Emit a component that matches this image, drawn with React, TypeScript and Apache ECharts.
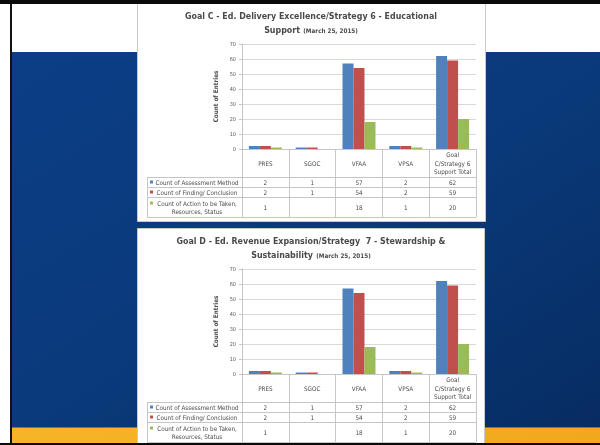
import React, { useEffect, useRef } from 'react';
import * as echarts from 'echarts';

// ---------- data ----------
const categories = ['PRES', 'SGOC', 'VFAA', 'VPSA', 'Goal\nC/Strategy 6\nSupport Total'];
const seriesNames = [
  'Count of Assessment Method',
  'Count of Finding/ Conclusion',
  'Count of Action to be Taken,\nResources, Status',
];
const goalCAssessment = [2, 1, 57, 2, 62];
const goalCFinding = [2, 1, 54, 2, 59];
const goalCAction: (number | null)[] = [1, null, 18, 1, 20];
const goalDAssessment = [2, 1, 57, 2, 62];
const goalDFinding = [2, 1, 54, 2, 59];
const goalDAction: (number | null)[] = [1, null, 18, 1, 20];
const yMin = 0;
const yMax = 70;
const yStep = 10;
const goalCTitle = ['Goal C - Ed. Delivery Excellence/Strategy 6 - Educational', 'Support'];
const goalDTitle = ['Goal D - Ed. Revenue Expansion/Strategy  7 - Stewardship &', 'Sustainability'];
const dateNote = '(March 25, 2015)';
const yAxisName = 'Count of Entries';

// ---------- style / layout ----------
const colors = ['#4F81BD', '#C0504D', '#9BBB59'];
const FONT = '"Liberation Sans Narrow", "DejaVu Sans Condensed", "Liberation Sans", sans-serif';
const GL = 242;
const GW = 234;
const GT = 44;
const GH = 105;
const TABLE_LEFT = 147;
const ROW_BOUNDS = [177, 187, 197, 217];
const LEGEND_CX = 197;
const LINE_H = 8;
const GRID_LINE = '#c6c6c6';
const TEXT = '#4a4a4a';

function buildOption() {
  const charts = [
    { off: 0, title: goalCTitle, data: [goalCAssessment, goalCFinding, goalCAction], panel: [137, 2, 348, 219] },
    { off: 225, title: goalDTitle, data: [goalDAssessment, goalDFinding, goalDAction], panel: [137, 228, 347, 220] },
  ];

  const graphics: any[] = [
    { type: 'rect', z: -20, shape: { x: 0, y: 0, width: 600, height: 445 }, style: { fill: '#ffffff' } },
    {
      type: 'rect', z: -19, shape: { x: 12, y: 52, width: 588, height: 376 },
      style: {
        fill: new echarts.graphic.LinearGradient(0, 0, 1, 1, [
          { offset: 0, color: '#0b3e86' },
          { offset: 0.5, color: '#0a3a7b' },
          { offset: 1, color: '#072c62' },
        ]),
      },
    },
    {
      type: 'rect', z: -19, shape: { x: 12, y: 427, width: 588, height: 16 },
      style: {
        fill: new echarts.graphic.LinearGradient(0, 0, 1, 0, [
          { offset: 0, color: '#f6b526' },
          { offset: 1, color: '#f2a81c' },
        ]),
      },
    },
    { type: 'rect', z: -19, shape: { x: 12, y: 427, width: 588, height: 1 }, style: { fill: '#9a7316' } },
    { type: 'rect', z: 50, shape: { x: 10, y: 0, width: 2, height: 445 }, style: { fill: '#111111' } },
    { type: 'rect', z: 50, shape: { x: 0, y: 0, width: 600, height: 4 }, style: { fill: '#0a0a0a' } },
    { type: 'rect', z: 50, shape: { x: 0, y: 443, width: 600, height: 2 }, style: { fill: '#0a0a0a' } },
  ];

  const grids: any[] = [];
  const xAxes: any[] = [];
  const yAxes: any[] = [];
  const series: any[] = [];

  charts.forEach((c, ci) => {
    const o = c.off;
    const [px, py, pw, ph] = c.panel;
    graphics.push({
      type: 'rect', z: -10, shape: { x: px + 0.5, y: py + 0.5, width: pw, height: ph },
      style: { fill: '#ffffff', stroke: '#c9c9c9', lineWidth: 1 },
    });
    // title
    graphics.push({
      type: 'text', z: 10, x: 311, y: 16 + o,
      style: {
        text: c.title[0], fill: TEXT, font: `bold 8.8px ${FONT}`,
        align: 'center', verticalAlign: 'middle',
      },
    });
    graphics.push({
      type: 'text', z: 10, x: 311, y: 30 + o,
      style: {
        text: `{a|${c.title[1]}} {b|${dateNote}}`,
        align: 'center', verticalAlign: 'middle',
        rich: {
          a: { fill: TEXT, font: `bold 8.8px ${FONT}` },
          b: { fill: TEXT, font: `bold 6.3px ${FONT}` },
        },
      },
    });

    // table horizontal lines
    ROW_BOUNDS.forEach((yb) => {
      graphics.push({
        type: 'line', z: 10,
        shape: { x1: TABLE_LEFT, y1: yb + o + 0.5, x2: GL + GW, y2: yb + o + 0.5 },
        style: { stroke: GRID_LINE, lineWidth: 1 },
      });
    });
    graphics.push({
      type: 'line', z: 10,
      shape: { x1: TABLE_LEFT + 0.5, y1: ROW_BOUNDS[0] + o, x2: TABLE_LEFT + 0.5, y2: ROW_BOUNDS[3] + o },
      style: { stroke: GRID_LINE, lineWidth: 1 },
    });

    // table rows
    c.data.forEach((vals, si) => {
      const cy = (ROW_BOUNDS[si] + ROW_BOUNDS[si + 1]) / 2 + o;
      const nLines = seriesNames[si].split('\n').length;
      const firstY = cy - ((nLines - 1) * LINE_H) / 2;
      graphics.push({
        type: 'rect', z: 10, shape: { x: 150, y: firstY - 1.5, width: 3, height: 3 },
        style: { fill: colors[si] },
      });
      graphics.push({
        type: 'text', z: 10, x: LEGEND_CX, y: cy,
        style: {
          text: seriesNames[si], fill: TEXT, font: `6.3px ${FONT}`,
          align: 'center', verticalAlign: 'middle', lineHeight: LINE_H,
        },
      });
      vals.forEach((v, j) => {
        graphics.push({
          type: 'text', z: 10, x: GL + ((j + 0.5) * GW) / categories.length, y: cy,
          style: {
            text: v == null ? '' : String(v), fill: TEXT, font: `6.3px ${FONT}`,
            align: 'center', verticalAlign: 'middle',
          },
        });
      });
    });

    grids.push({ left: GL, top: GT + o, width: GW, height: GH, containLabel: false });
    xAxes.push({
      type: 'category', gridIndex: ci, data: categories,
      axisLine: { show: true, lineStyle: { color: GRID_LINE } },
      axisTick: { show: true, length: ROW_BOUNDS[3] - (GT + GH), lineStyle: { color: GRID_LINE } },
      axisLabel: {
        interval: 0, color: TEXT, fontSize: 6.3, fontFamily: FONT,
        lineHeight: 8.5, margin: 14, verticalAlign: 'middle',
      },
      splitLine: { show: false },
    });
    yAxes.push({
      type: 'value', gridIndex: ci, min: yMin, max: yMax, interval: yStep,
      name: yAxisName, nameLocation: 'middle', nameGap: 24, nameRotate: 90,
      nameTextStyle: { fontSize: 6.3, fontWeight: 'bold', color: TEXT, fontFamily: FONT },
      axisLine: { show: true, lineStyle: { color: GRID_LINE } },
      axisTick: { show: true, length: 3, lineStyle: { color: GRID_LINE } },
      axisLabel: { color: '#595959', fontSize: 5.5, fontFamily: FONT, margin: 6 },
      splitLine: { show: true, lineStyle: { color: '#d9d9d9' } },
    });
    c.data.forEach((vals, si) => {
      series.push({
        type: 'bar', name: seriesNames[si].replace('\n', ' '),
        xAxisIndex: ci, yAxisIndex: ci, data: vals,
        barWidth: 11, barGap: '0%',
        itemStyle: { color: colors[si] },
      });
    });
  });

  return {
    animation: false,
    grid: grids,
    xAxis: xAxes,
    yAxis: yAxes,
    series,
    graphic: { elements: graphics },
  };
}

export default function App() {
  const ref = useRef<HTMLDivElement>(null);
  useEffect(() => {
    if (!ref.current) return;
    const chart = echarts.init(ref.current, null, { renderer: 'svg' });
    chart.setOption(buildOption() as any);
    return () => chart.dispose();
  }, []);
  return (
    <div
      ref={ref}
      style={{ position: 'fixed', left: 0, top: 0, width: 600, height: 445 }}
    />
  );
}
